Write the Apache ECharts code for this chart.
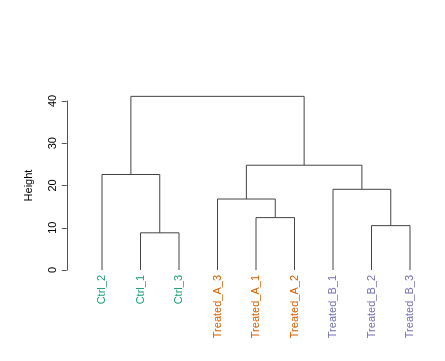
<!DOCTYPE html>
<html><head><meta charset="utf-8">
<script src="https://cdn.jsdelivr.net/npm/echarts@6/dist/echarts.min.js"></script>
<style>html,body{margin:0;padding:0;background:#fff}#c{width:445px;height:361px}</style>
</head><body><div id="c"></div>
<script>
// leaf order (left to right) and group of each leaf
const leaves = ['Ctrl_2','Ctrl_1','Ctrl_3','Treated_A_3','Treated_A_1','Treated_A_2','Treated_B_1','Treated_B_2','Treated_B_3'];
const leafGroups = ['Ctrl','Ctrl','Ctrl','A','A','A','B','B','B'];
const groupColors = {Ctrl:'#1B9E77', A:'#D95F02', B:'#7570B3'};
// merges: left child, right child (leaf name or merge id 'mN', 1-based)
const mergeLeft  = ['Ctrl_1','Treated_B_2','Treated_A_1','Treated_A_3','Treated_B_1','Ctrl_2','m4','m6'];
const mergeRight = ['Ctrl_3','Treated_B_3','Treated_A_2','m3','m2','m1','m5','m7'];
const mergeHeights = [8.8, 10.5, 12.4, 16.8, 19.1, 22.6, 24.8, 41.1];
const yTicks = [0,10,20,30,40];

const pos = {};
leaves.forEach((l,i)=>{pos[l]={x:i,h:0};});
const segs = [];
mergeHeights.forEach((h,i)=>{
  const a = pos[mergeLeft[i]], b = pos[mergeRight[i]];
  segs.push({coords:[[a.x,a.h],[a.x,h],[b.x,h],[b.x,b.h]]});
  pos['m'+(i+1)] = {x:(a.x+b.x)/2, h:h};
});

const font = 'Liberation Sans, Arial, sans-serif';
const chart = echarts.init(document.getElementById('c'));
chart.setOption({
  animation:false,
  grid:{left:82.75, right:15.75, top:101, bottom:91},
  xAxis:[
    {type:'category', data:leaves.map((l,i)=>({value:l, textStyle:{color:groupColors[leafGroups[i]]}})),
      boundaryGap:true, axisLine:{show:false}, axisTick:{show:false}, splitLine:{show:false},
      axisLabel:{rotate:90, margin:5, fontSize:11, fontFamily:font, interval:0}},
    {type:'value', min:-0.5, max:leaves.length-0.5, show:false, splitLine:{show:false}}
  ],
  yAxis:{type:'value', min:0, max:40, interval:10, offset:16,
    name:'Height', nameLocation:'middle', nameRotate:90, nameGap:32,
    nameTextStyle:{fontSize:11, color:'#000', fontFamily:font},
    axisLine:{show:true, onZero:false, lineStyle:{color:'#555', width:1}},
    axisTick:{show:true, length:5, lineStyle:{color:'#555'}},
    splitLine:{show:false},
    axisLabel:{rotate:90, margin:8, fontSize:11, color:'#000', fontFamily:font,
      formatter:v=>yTicks.includes(v)?String(v):''}},
  series:[{type:'lines', coordinateSystem:'cartesian2d', xAxisIndex:1, polyline:true, clip:false, silent:true,
    lineStyle:{color:'#444', width:1, opacity:1}, data:segs}]
});
</script></body></html>
